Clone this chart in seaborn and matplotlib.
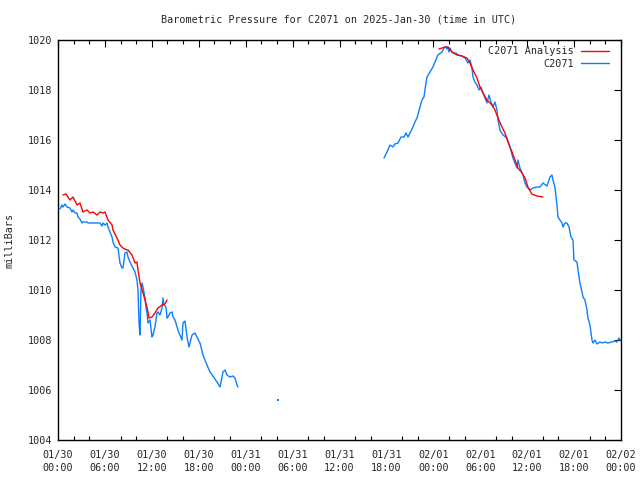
import matplotlib
matplotlib.use("Agg")
import matplotlib.pyplot as plt
import seaborn as sns
import pandas as pd
import numpy as np
from matplotlib.lines import Line2D

# hours since 2025-01-30 00:00 UTC
blue1_h = [0.26, 0.51, 0.64, 0.90, 1.15, 1.53, 1.79, 1.92, 2.17, 2.43, 2.56, 2.81, 3.07, 3.20, 3.45, 3.71,
           3.84, 4.09, 4.48, 4.99, 5.37, 5.63, 5.75, 6.01, 6.27, 6.39, 6.65, 6.91, 7.03, 7.29, 7.67, 7.93,
           8.18, 8.31, 8.57, 8.82, 8.95, 9.21, 9.59, 9.85, 10.10, 10.23, 10.36, 10.49, 10.61, 10.74, 10.87,
           11.13, 11.25, 11.38, 11.51, 11.76, 12.02, 12.15, 12.40, 12.66, 12.79, 13.04, 13.30, 13.43, 13.55,
           13.81, 13.94, 14.07, 14.32, 14.58, 14.71, 14.96, 15.22, 15.47, 15.60, 15.86, 15.98, 16.24, 16.50,
           16.75, 17.14, 17.52, 17.77, 18.16, 18.54, 19.05, 19.44, 19.82, 20.33, 20.72, 21.10, 21.36, 21.61,
           22.00, 22.38, 22.63, 22.89, 23.02]
blue1_p = [1013.24, 1013.40, 1013.32, 1013.44, 1013.32, 1013.28, 1013.12, 1013.20, 1013.08, 1013.08, 1012.92,
           1012.84, 1012.68, 1012.72, 1012.72, 1012.72, 1012.68, 1012.68, 1012.68, 1012.68, 1012.68, 1012.56,
           1012.68, 1012.60, 1012.68, 1012.52, 1012.32, 1012.12, 1011.92, 1011.72, 1011.68, 1011.08, 1010.88,
           1010.88, 1011.48, 1011.52, 1011.32, 1011.12, 1010.88, 1010.72, 1010.40, 1010.00, 1008.68, 1008.20,
           1010.00, 1010.28, 1010.12, 1009.68, 1009.32, 1009.08, 1008.68, 1008.80, 1008.12, 1008.20, 1008.52,
           1009.08, 1009.12, 1009.00, 1009.28, 1009.68, 1009.40, 1009.32, 1008.88, 1008.92, 1009.08, 1009.12,
           1008.92, 1008.80, 1008.52, 1008.28, 1008.20, 1008.00, 1008.68, 1008.76, 1008.12, 1007.72, 1008.20,
           1008.28, 1008.12, 1007.88, 1007.40, 1007.00, 1006.72, 1006.56, 1006.32, 1006.12, 1006.72, 1006.80,
           1006.60, 1006.52, 1006.56, 1006.48, 1006.20, 1006.12]

lone_h = [28.13]
lone_p = [1005.60]

blue2_h = [41.69, 42.07, 42.46, 42.84, 43.09, 43.48, 43.86, 44.25, 44.50, 44.76, 45.27, 45.65, 45.91, 46.29,
           46.55, 46.80, 47.06, 47.19, 47.57, 47.95, 48.21, 48.59, 49.10, 49.36, 49.62, 49.74, 49.87, 50.00,
           50.13, 50.38, 50.51, 50.90, 51.15, 51.66, 52.05, 52.43, 52.69, 52.94, 53.07, 53.32, 53.58, 53.84,
           54.09, 54.35, 54.60, 54.86, 55.12, 55.37, 55.63, 55.88, 56.14, 56.27, 56.52, 56.91, 57.42, 57.80,
           58.18, 58.70, 58.82, 59.08, 59.46, 59.72, 59.97, 60.10, 60.36, 60.74, 61.25, 61.64, 62.02, 62.53,
           62.92, 63.17, 63.30, 63.55, 63.81, 63.94, 64.19, 64.45, 64.58, 64.83, 65.09, 65.35, 65.60, 65.86,
           65.98, 66.37, 66.50, 66.75, 67.01, 67.14, 67.39, 67.65, 67.77, 68.03, 68.29, 68.41, 68.67, 68.93,
           69.31, 69.57, 69.95, 70.33, 70.84, 71.23, 71.48, 71.74, 71.87]
blue2_p = [1015.28, 1015.52, 1015.80, 1015.72, 1015.84, 1015.88, 1016.12, 1016.12, 1016.28, 1016.12, 1016.44,
           1016.72, 1016.88, 1017.32, 1017.60, 1017.72, 1018.28, 1018.52, 1018.72, 1018.92, 1019.12, 1019.40,
           1019.52, 1019.68, 1019.72, 1019.64, 1019.72, 1019.52, 1019.68, 1019.52, 1019.48, 1019.48, 1019.40,
           1019.36, 1019.28, 1019.08, 1019.20, 1018.88, 1018.52, 1018.32, 1018.20, 1018.00, 1018.12, 1017.88,
           1017.68, 1017.48, 1017.80, 1017.52, 1017.32, 1017.52, 1017.20, 1016.80, 1016.40, 1016.20, 1016.08,
           1015.72, 1015.28, 1014.88, 1015.20, 1014.88, 1014.60, 1014.28, 1014.12, 1014.08, 1014.00, 1014.08,
           1014.12, 1014.12, 1014.28, 1014.16, 1014.52, 1014.60, 1014.40, 1014.10, 1013.40, 1012.92, 1012.80,
           1012.68, 1012.52, 1012.68, 1012.68, 1012.52, 1012.12, 1012.00, 1011.20, 1011.12, 1010.80, 1010.28,
           1009.92, 1009.72, 1009.60, 1009.20, 1008.88, 1008.60, 1008.00, 1007.88, 1008.00, 1007.84, 1007.92,
           1007.88, 1007.92, 1007.88, 1007.92, 1007.96, 1007.92, 1008.08, 1008.00]

red1_h = [0.64, 1.02, 1.53, 1.92, 2.43, 2.81, 3.20, 3.71, 4.09, 4.48, 4.99, 5.37, 5.75, 6.01, 6.39, 6.91,
          7.03, 7.54, 7.93, 8.31, 8.82, 8.95, 9.46, 9.85, 10.10, 10.23, 10.49, 10.87, 11.38, 11.64, 12.02,
          12.40, 12.79, 13.30, 13.68, 13.94]
red1_p = [1013.80, 1013.84, 1013.60, 1013.72, 1013.40, 1013.48, 1013.12, 1013.20, 1013.08, 1013.12, 1013.00,
          1013.12, 1013.08, 1013.12, 1012.80, 1012.60, 1012.40, 1012.08, 1011.80, 1011.68, 1011.60, 1011.60,
          1011.40, 1011.08, 1011.12, 1010.80, 1010.28, 1009.88, 1009.32, 1008.88, 1008.92, 1009.08, 1009.28,
          1009.40, 1009.44, 1009.60]

red2_h = [48.72, 49.49, 49.87, 50.38, 51.02, 51.66, 52.30, 52.69, 53.07, 53.58, 53.96, 54.35, 54.86, 55.50,
          55.88, 56.27, 56.78, 57.16, 57.54, 58.06, 58.44, 58.82, 59.34, 59.72, 60.10, 60.61, 61.25, 62.02]
red2_p = [1019.64, 1019.72, 1019.72, 1019.52, 1019.40, 1019.36, 1019.28, 1019.08, 1018.80, 1018.48, 1018.12,
          1017.88, 1017.60, 1017.40, 1017.20, 1016.88, 1016.52, 1016.28, 1015.92, 1015.52, 1015.20, 1014.88,
          1014.68, 1014.48, 1014.12, 1013.84, 1013.76, 1013.72]

x_tick_labels = ["01/30\n00:00", "01/30\n06:00", "01/30\n12:00", "01/30\n18:00",
                 "01/31\n00:00", "01/31\n06:00", "01/31\n12:00", "01/31\n18:00",
                 "02/01\n00:00", "02/01\n06:00", "02/01\n12:00", "02/01\n18:00",
                 "02/02\n00:00"]
y_ticks = [1004, 1006, 1008, 1010, 1012, 1014, 1016, 1018, 1020]

title = "Barometric Pressure for C2071 on 2025-Jan-30 (time in UTC)"
ylabel = "milliBars"
name_analysis = "C2071 Analysis"
name_obs = "C2071"

RED = "#ff0000"
BLUE = "#0a80ff"

sns.set_theme(style="white")
plt.rcParams["font.family"] = ["DejaVu Sans Mono"]
FS = 7.3

blue_df = pd.DataFrame({
    "h": blue1_h + blue2_h,
    "p": blue1_p + blue2_p,
    "seg": [1] * len(blue1_h) + [2] * len(blue2_h),
})
red_df = pd.DataFrame({
    "h": red1_h + red2_h,
    "p": red1_p + red2_p,
    "seg": [1] * len(red1_h) + [2] * len(red2_h),
})
lone_df = pd.DataFrame({"h": lone_h, "p": lone_p})

fig = plt.figure(figsize=(6.4, 4.8), dpi=100)
ax = fig.add_axes([58 / 640, 40 / 480, (621 - 58) / 640, 400 / 480])

sns.lineplot(data=blue_df, x="h", y="p", units="seg", estimator=None, color=BLUE,
             linewidth=1.0, ax=ax, sort=False)
sns.lineplot(data=red_df, x="h", y="p", units="seg", estimator=None, color=RED,
             linewidth=1.0, ax=ax, sort=False)
sns.scatterplot(data=lone_df, x="h", y="p", color=BLUE, marker="s", s=2, linewidth=0, ax=ax)

ax.set_xlim(0, 72)
ax.set_ylim(1004, 1020)
ax.set_xticks(np.arange(0, 73, 6))
ax.set_xticklabels(x_tick_labels, fontsize=FS, linespacing=1.35)
ax.set_xticks(np.arange(0, 73, 2), minor=True)
ax.set_yticks(y_ticks)
ax.set_yticklabels([str(v) for v in y_ticks], fontsize=FS)
ax.tick_params(axis="both", which="major", direction="in", length=5, width=0.8,
               top=True, right=True, color="black")
ax.tick_params(axis="x", which="major", pad=7)
ax.tick_params(axis="y", which="major", pad=4)
ax.tick_params(axis="x", which="minor", direction="in", length=3, width=0.8,
               top=True, bottom=True, color="black")

for s in ax.spines.values():
    s.set_visible(True)
    s.set_color("black")
    s.set_linewidth(1.0)

ax.set_xlabel("")
ax.set_ylabel("")
fig.text(10 / 640, 1 - 240 / 480, ylabel, rotation=90, fontsize=FS, ha="center", va="center")
fig.text(339 / 640, 1 - 20 / 480, title, fontsize=FS, ha="center", va="center")

handles = [Line2D([], [], color=RED, lw=1.0), Line2D([], [], color=BLUE, lw=1.0)]
leg = ax.legend(handles, [name_analysis, name_obs], loc="upper right", frameon=False,
                markerfirst=False, fontsize=FS, handlelength=2.75, handletextpad=0.7,
                labelspacing=0.25, borderaxespad=0.2, bbox_to_anchor=(0.989, 1.0))
for t in leg.get_texts():
    t.set_ha("right")
leg._legend_box.align = "right"

fig.savefig("out.png", dpi=100, facecolor="white")
